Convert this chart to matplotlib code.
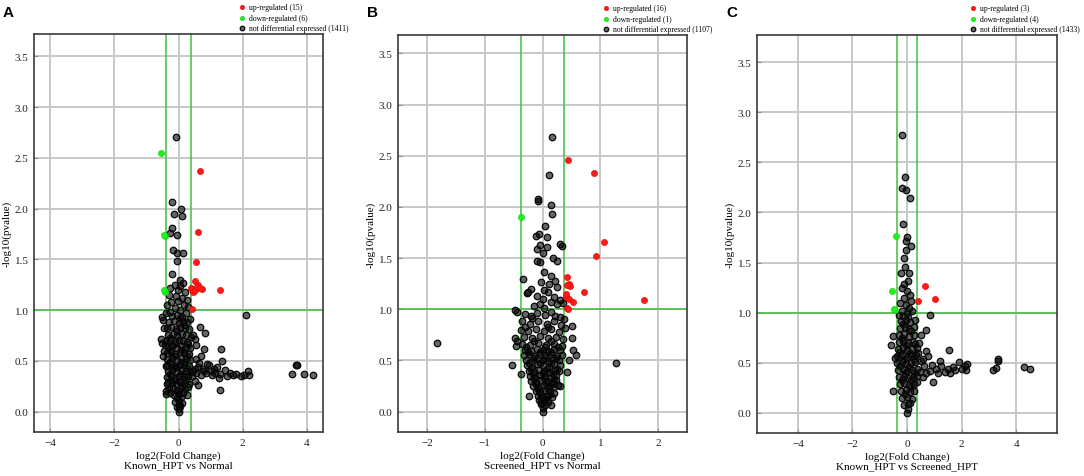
import numpy as np
import matplotlib
matplotlib.use("Agg")
import matplotlib.pyplot as plt

plt.rcParams['font.family'] = ['Liberation Serif', 'DejaVu Serif']

# ---- panel A : Known_HPT vs Normal ----
up_a = np.array([(0.66, 2.37), (0.60, 1.77), (0.54, 1.47), (0.52, 1.29), (0.62, 1.25),
                 (0.38, 1.22), (0.47, 1.19), (0.45, 1.18), (0.73, 1.21), (1.28, 1.20),
                 (0.42, 1.01), (0.43, 1.21), (0.50, 1.20), (0.58, 1.23), (0.66, 1.22)])
down_a = np.array([(-0.53, 2.55), (-0.42, 1.73), (-0.43, 1.19), (-0.41, 1.18),
                   (-0.44, 1.74), (-0.45, 1.20)])
grey_a = np.array([
    (-0.07, 2.71), (-0.20, 2.07), (0.09, 2.00), (-0.13, 1.95), (0.11, 1.93), (-0.20, 1.81),
    (-0.28, 1.76), (-0.05, 1.74), (-0.18, 1.59), (-0.05, 1.56), (0.14, 1.56), (-0.05, 1.48),
    (-0.19, 1.36), (0.04, 1.30), (0.13, 1.27), (-0.03, 1.20),
    (-0.25, 1.22), (-0.12, 1.25), (0.06, 1.24), (0.20, 1.18), (-0.30, 1.15), (-0.08, 1.14),
    (0.10, 1.12), (0.26, 1.10), (-0.22, 1.08), (-0.02, 1.09), (0.16, 1.05), (0.30, 1.03),
    (-0.35, 1.05), (-0.12, 1.02), (0.05, 1.00), (-0.28, 0.98), (0.22, 0.97), (0.35, 0.91),
    (-0.40, 0.97),
    (2.09, 0.95), (0.67, 0.83), (0.84, 0.78), (0.50, 0.72), (0.55, 0.66), (0.45, 0.76),
    (-0.53, 0.72), (-0.50, 0.68), (-0.45, 0.60), (-0.47, 0.90), (-0.50, 0.93), (-0.45, 0.82),
    (-0.42, 0.66), (-0.48, 0.55), (-0.40, 0.45), (-0.40, 0.20), (-0.38, 0.17), (-0.35, 0.27),
    (0.45, 0.40), (0.55, 0.38), (0.60, 0.44), (0.70, 0.36), (0.75, 0.42), (0.85, 0.38),
    (0.90, 0.47), (1.00, 0.40), (1.05, 0.36), (1.15, 0.38), (1.20, 0.44), (1.30, 0.37),
    (1.35, 0.50), (1.45, 0.41), (1.50, 0.35), (1.60, 0.38), (1.70, 0.36), (1.80, 0.37),
    (1.95, 0.35), (2.05, 0.36), (2.15, 0.40), (2.20, 0.36), (1.25, 0.33), (0.50, 0.30),
    (0.60, 0.26), (0.55, 0.52), (0.70, 0.55), (0.80, 0.62), (1.33, 0.62), (1.30, 0.21),
    (0.95, 0.46), (1.10, 0.42), (0.65, 0.48), (0.42, 0.35), (0.52, 0.42), (0.80, 0.40),
    (3.53, 0.37), (3.66, 0.455), (3.68, 0.46), (3.90, 0.37), (4.18, 0.36),
    (0.00, 0.00), (0.02, 0.03), (-0.05, 0.05), (0.05, 0.06), (0.00, 0.07),
    (-0.12, 0.10), (0.00, 0.11), (0.12, 0.09), (-0.06, 0.13), (0.07, 0.14),
    (-0.25, 0.18), (-0.13, 0.16), (0.00, 0.17), (0.13, 0.18), (0.25, 0.16),
    (-0.30, 0.22), (-0.17, 0.23), (-0.05, 0.21), (0.07, 0.23), (0.20, 0.22), (0.30, 0.24),
    (-0.33, 0.29), (-0.20, 0.28), (-0.08, 0.27), (0.05, 0.29), (0.18, 0.28), (0.32, 0.27),
    (-0.35, 0.34), (-0.22, 0.35), (-0.10, 0.33), (0.03, 0.35), (0.16, 0.34), (0.30, 0.35),
    (-0.34, 0.40), (-0.20, 0.41), (-0.06, 0.39), (0.08, 0.41), (0.22, 0.40), (0.36, 0.39),
    (-0.36, 0.46), (-0.23, 0.47), (-0.10, 0.45), (0.04, 0.47), (0.18, 0.46), (0.32, 0.45),
    (-0.35, 0.52), (-0.20, 0.53), (-0.06, 0.51), (0.08, 0.53), (0.22, 0.52), (0.36, 0.51),
    (-0.37, 0.58), (-0.24, 0.59), (-0.10, 0.57), (0.04, 0.59), (0.18, 0.58), (0.32, 0.57),
    (-0.34, 0.64), (-0.20, 0.65), (-0.06, 0.63), (0.08, 0.65), (0.22, 0.64), (0.36, 0.63),
    (-0.38, 0.70), (-0.25, 0.71), (-0.12, 0.69), (0.02, 0.71), (0.15, 0.70), (0.28, 0.69),
    (-0.32, 0.76), (-0.18, 0.77), (-0.04, 0.75), (0.10, 0.77), (0.24, 0.76), (0.38, 0.74),
    (-0.36, 0.82), (-0.22, 0.83), (-0.08, 0.81), (0.06, 0.83), (0.20, 0.82), (0.33, 0.81),
    (-0.30, 0.88), (-0.15, 0.89), (0.00, 0.87), (0.14, 0.89), (0.28, 0.88),
    (-0.20, 0.94), (-0.06, 0.95), (0.10, 0.93),
    (-0.06, 0.20), (0.10, 0.25), (-0.15, 0.31), (0.22, 0.31), (-0.28, 0.37), (0.10, 0.37),
    (-0.13, 0.43), (0.25, 0.43), (-0.28, 0.49), (0.13, 0.49), (-0.15, 0.55), (0.27, 0.55),
    (-0.28, 0.61), (0.12, 0.61), (-0.13, 0.67), (0.29, 0.67), (-0.05, 0.79), (0.17, 0.85),
    (-0.25, 0.73), (0.05, 0.92), (-0.02, 0.45), (0.00, 0.30)])

# ---- panel B : Screened_HPT vs Normal ----
up_b = np.array([(0.44, 2.46), (0.89, 2.33), (1.06, 1.66), (0.92, 1.52), (0.42, 1.31),
                 (0.45, 1.25), (0.47, 1.23), (0.72, 1.17), (1.76, 1.09), (0.41, 1.12),
                 (0.46, 1.10), (0.52, 1.07), (0.42, 1.01), (0.44, 1.00), (0.43, 1.24),
                 (0.40, 1.15)])
down_b = np.array([(-0.38, 1.90)])
grey_b = np.array([
    (0.17, 2.68), (0.12, 2.31), (-0.08, 2.08), (-0.07, 2.06), (0.15, 2.02), (0.16, 1.93),
    (0.05, 1.81), (-0.12, 1.72), (-0.06, 1.74), (0.07, 1.71),
    (-0.05, 1.63), (0.07, 1.61), (-0.10, 1.59), (0.30, 1.64), (0.33, 1.62), (-0.10, 1.47),
    (-0.05, 1.46), (0.25, 1.47), (0.00, 1.55), (0.18, 1.50),
    (-0.34, 1.30), (0.03, 1.36), (0.15, 1.32), (0.21, 1.28), (0.25, 1.22), (0.12, 1.25),
    (-0.02, 1.27), (-0.20, 1.20), (-0.25, 1.17), (-0.26, 1.16),
    (0.03, 1.19), (0.10, 1.17), (-0.10, 1.13), (0.00, 1.10), (0.20, 1.12), (0.30, 1.09),
    (-0.05, 1.05), (0.15, 1.07), (0.25, 1.05), (-0.15, 1.03), (0.03, 1.01), (0.35, 1.06),
    (-0.47, 0.99), (-0.44, 0.97), (-0.30, 0.95), (-0.20, 0.93), (-0.10, 0.96), (0.05, 0.94),
    (0.15, 0.97), (0.30, 0.92), (0.38, 0.90),
    (-0.35, 0.88), (-0.22, 0.86), (-0.08, 0.88), (0.08, 0.86), (0.20, 0.88), (0.32, 0.85),
    (0.51, 0.84), (0.39, 0.82), (-0.38, 0.80), (-0.25, 0.79), (-0.12, 0.81), (0.02, 0.79),
    (0.15, 0.81), (0.28, 0.78),
    (-0.47, 0.72), (-0.44, 0.69), (-0.46, 0.64), (0.51, 0.72), (-0.32, 0.73), (-0.18, 0.72),
    (-0.04, 0.74), (0.10, 0.72), (0.24, 0.73), (0.36, 0.71),
    (-0.36, 0.66), (-0.22, 0.65), (-0.08, 0.67), (0.06, 0.65), (0.20, 0.66), (0.33, 0.64),
    (0.52, 0.60), (0.58, 0.55), (0.45, 0.50),
    (-0.30, 0.60), (-0.20, 0.59), (-0.10, 0.61), (0.00, 0.60), (0.10, 0.59), (0.20, 0.61), (0.30, 0.60),
    (-0.32, 0.55), (-0.24, 0.56), (-0.15, 0.54), (-0.05, 0.56), (0.05, 0.55), (0.15, 0.56), (0.25, 0.54), (0.34, 0.55),
    (-0.28, 0.50), (-0.19, 0.49), (-0.10, 0.51), (0.00, 0.50), (0.10, 0.49), (0.19, 0.51), (0.28, 0.50),
    (-0.27, 0.45), (-0.18, 0.44), (-0.09, 0.46), (0.01, 0.45), (0.11, 0.44), (0.20, 0.46), (0.30, 0.45),
    (-0.24, 0.40), (-0.15, 0.39), (-0.06, 0.41), (0.03, 0.40), (0.12, 0.39), (0.21, 0.41), (0.28, 0.40),
    (-0.22, 0.35), (-0.13, 0.34), (-0.04, 0.36), (0.05, 0.35), (0.14, 0.34), (0.23, 0.36),
    (-0.20, 0.30), (-0.11, 0.29), (-0.02, 0.31), (0.07, 0.30), (0.16, 0.29), (0.24, 0.31),
    (-0.16, 0.25), (-0.07, 0.24), (0.02, 0.26), (0.11, 0.25), (0.20, 0.24), (0.27, 0.26),
    (-0.12, 0.20), (-0.04, 0.19), (0.05, 0.21), (0.13, 0.20), (0.20, 0.18),
    (-0.23, 0.15), (-0.08, 0.15), (0.00, 0.14), (0.08, 0.15), (0.17, 0.14),
    (-0.06, 0.11), (0.02, 0.10), (0.10, 0.09), (-0.03, 0.07), (0.04, 0.06),
    (0.14, 0.06), (0.00, 0.03), (0.01, 0.00),
    (-0.25, 0.58), (-0.05, 0.58), (0.15, 0.58), (-0.14, 0.52), (0.05, 0.52), (0.24, 0.52),
    (-0.23, 0.47), (-0.04, 0.47), (0.15, 0.47), (-0.20, 0.42), (0.08, 0.42), (0.25, 0.42),
    (-0.17, 0.37), (0.00, 0.38), (0.18, 0.37), (-0.15, 0.32), (0.03, 0.33), (0.20, 0.32),
    (-0.12, 0.27), (0.06, 0.28), (0.16, 0.27), (-0.08, 0.22), (0.09, 0.22), (-0.03, 0.16),
    (0.12, 0.16), (0.06, 0.12), (-0.02, 0.09),
    (-0.28, 0.63), (0.05, 0.63), (0.26, 0.63), (-0.14, 0.69), (0.14, 0.69), (-0.30, 0.83),
    (0.10, 0.83), (-0.18, 0.91), (0.22, 0.93),
    (-1.83, 0.67), (-0.53, 0.45), (1.28, 0.47), (-0.37, 0.37), (0.43, 0.39), (0.30, 0.25)])

# ---- panel C : Known_HPT vs Screened_HPT ----
up_c = np.array([(0.65, 1.27), (1.01, 1.14), (0.39, 1.12)])
down_c = np.array([(-0.39, 1.77), (-0.55, 1.22), (-0.45, 1.03), (-0.48, 1.04)])
grey_c = np.array([
    (-0.19, 2.77), (-0.08, 2.35), (-0.17, 2.24), (-0.04, 2.22), (0.11, 2.14), (-0.15, 1.88),
    (0.00, 1.76), (-0.02, 1.72), (0.15, 1.67), (-0.02, 1.63), (-0.12, 1.55), (-0.09, 1.46),
    (-0.21, 1.40), (0.06, 1.40), (0.04, 1.32), (-0.12, 1.29),
    (-0.20, 1.25), (0.00, 1.22), (0.10, 1.18), (-0.12, 1.15), (0.15, 1.12), (-0.25, 1.10),
    (-0.05, 1.08), (0.08, 1.05), (-0.20, 1.02), (0.20, 1.02), (0.00, 1.00), (-0.30, 0.98),
    (0.86, 0.98), (0.71, 0.83), (0.50, 0.78), (-0.60, 0.68), (-0.50, 0.77), (-0.50, 0.22),
    (0.45, 0.70), (0.40, 0.60), (-0.45, 0.55),
    (1.54, 0.63), (0.60, 0.54), (0.71, 0.62), (0.53, 0.52), (0.61, 0.47), (0.77, 0.57),
    (0.83, 0.42), (1.08, 0.44), (1.26, 0.47), (1.38, 0.41), (1.50, 0.44), (1.69, 0.46),
    (1.75, 0.43), (1.91, 0.51), (2.00, 0.44), (2.12, 0.47), (2.20, 0.49), (2.15, 0.43),
    (1.14, 0.40), (1.56, 0.40), (0.71, 0.40), (0.47, 0.41), (0.59, 0.36), (0.96, 0.31),
    (0.90, 0.48), (1.20, 0.52),
    (3.15, 0.43), (3.25, 0.45), (3.33, 0.54), (3.34, 0.52), (4.28, 0.46), (4.52, 0.44),
    (0.00, 0.00), (0.02, 0.04), (-0.10, 0.08), (0.05, 0.09), (0.12, 0.10),
    (-0.18, 0.15), (0.00, 0.16), (0.17, 0.14),
    (-0.22, 0.22), (-0.05, 0.23), (0.10, 0.21), (0.25, 0.22),
    (-0.27, 0.29), (-0.10, 0.30), (0.08, 0.28), (0.25, 0.29), (0.35, 0.31),
    (-0.30, 0.36), (-0.12, 0.37), (0.05, 0.35), (0.22, 0.36), (0.36, 0.37),
    (-0.33, 0.43), (-0.16, 0.44), (0.01, 0.42), (0.18, 0.43), (0.35, 0.44),
    (-0.38, 0.50), (-0.20, 0.51), (-0.03, 0.49), (0.14, 0.50), (0.31, 0.51),
    (-0.36, 0.57), (-0.18, 0.58), (-0.01, 0.56), (0.16, 0.57), (0.33, 0.58),
    (-0.33, 0.64), (-0.16, 0.65), (0.01, 0.63), (0.18, 0.64), (0.35, 0.65),
    (-0.30, 0.71), (-0.13, 0.72), (0.04, 0.70), (0.21, 0.71),
    (-0.28, 0.78), (-0.10, 0.79), (0.07, 0.77), (0.24, 0.78),
    (-0.25, 0.85), (-0.08, 0.86), (0.09, 0.84), (0.26, 0.86),
    (-0.22, 0.92), (-0.05, 0.93), (0.12, 0.91), (0.30, 0.93),
    (-0.15, 0.97), (0.05, 0.96),
    (-0.08, 0.19), (0.14, 0.26), (-0.18, 0.33), (0.15, 0.33), (-0.08, 0.40), (0.27, 0.40),
    (-0.25, 0.47), (0.08, 0.46), (-0.10, 0.54), (0.25, 0.54), (-0.25, 0.61), (0.10, 0.60),
    (-0.05, 0.68), (0.30, 0.69), (-0.18, 0.75), (0.16, 0.82), (-0.15, 0.89)])

letters = ['A', 'B', 'C']
comparisons = ['Known_HPT vs Normal', 'Screened_HPT vs Normal', 'Known_HPT vs Screened_HPT']
counts = [(15, 6, 1411), (16, 1, 1107), (3, 4, 1433)]
xlims = [(-4.5, 4.5), (-2.5, 2.5), (-5.5, 5.5)]
xticks = [[-4, -2, 0, 2, 4], [-2, -1, 0, 1, 2], [-4, -2, 0, 2, 4]]
ylims = [(-0.2, 3.72), (-0.2, 3.68), (-0.2, 3.77)]
ups = [up_a, up_b, up_c]
downs = [down_a, down_b, down_c]
greys = [grey_a, grey_b, grey_c]

# axes boxes in pixels (left, right, top, bottom)
boxes = [(34, 323, 35, 433), (398, 687, 36, 433), (757, 1057, 36, 434)]

W, H = 1084, 477
fig = plt.figure(figsize=(W / 100, H / 100), dpi=100)
line_green = '#3fbf3f'

for i in range(3):
    l, r, t, b = boxes[i]
    ax = fig.add_axes([l / W, 1 - b / H, (r - l) / W, (b - t) / H])
    ax.set_xlim(*xlims[i])
    ax.set_ylim(*ylims[i])
    ax.set_xticks(xticks[i])
    ax.set_yticks(np.arange(0, 3.51, 0.5))
    ax.set_yticklabels(['%.1f' % v for v in np.arange(0, 3.51, 0.5)])
    ax.set_xticklabels(['\u2212%g' % abs(v) if v < 0 else '%g' % v for v in xticks[i]])
    ax.grid(True, color='#c8c8c8', linewidth=1.4, zorder=0)
    ax.set_axisbelow(True)
    for sp in ax.spines.values():
        sp.set_color('#3a3a3a')
        sp.set_linewidth(1.2)
    ax.tick_params(direction='in', length=3, width=0.8, color='#909090',
                   labelsize=8, labelcolor='#222222', pad=4)

    ax.axvline(-0.38, color=line_green, lw=1.1, zorder=1)
    ax.axvline(0.38, color=line_green, lw=1.1, zorder=1)
    ax.axhline(1.0, color=line_green, lw=1.1, zorder=1)

    g = greys[i]
    u = ups[i]
    d = downs[i]
    n_up, n_down, n_no = counts[i]
    ax.scatter(u[:, 0], u[:, 1], s=20, c='#ff1a1a', edgecolors='#e00000', linewidths=0.4,
               zorder=3, label='up-regulated (%d)' % n_up)
    ax.scatter(d[:, 0], d[:, 1], s=20, c='#22ee22', edgecolors='#10d010', linewidths=0.4,
               zorder=3, label='down-regulated (%d)' % n_down)
    ax.scatter(g[:, 0], g[:, 1], s=22, facecolors=[(0, 0, 0, 0.6)], edgecolors='#0a0a0a',
               linewidths=0.9, zorder=2, label='not differential expressed (%d)' % n_no)

    ax.set_xlabel('log2(Fold Change)\n' + comparisons[i], fontsize=8, labelpad=3,
                  linespacing=1.05)
    ax.set_ylabel('-log10(pvalue)', fontsize=8, labelpad=2)

    ax.legend(loc='lower left', bbox_to_anchor=(0.70, 1.0), frameon=False, fontsize=5.5,
              markerscale=0.7, handletextpad=0.3, labelspacing=0.35, borderaxespad=0.1,
              handlelength=1.2, borderpad=0.1)

    fig.text((l - 31) / W, 1 - 13 / H, letters[i], fontsize=11, fontweight='bold',
             family='Liberation Sans', va='center', ha='left')

fig.savefig('out.png', dpi=100)
